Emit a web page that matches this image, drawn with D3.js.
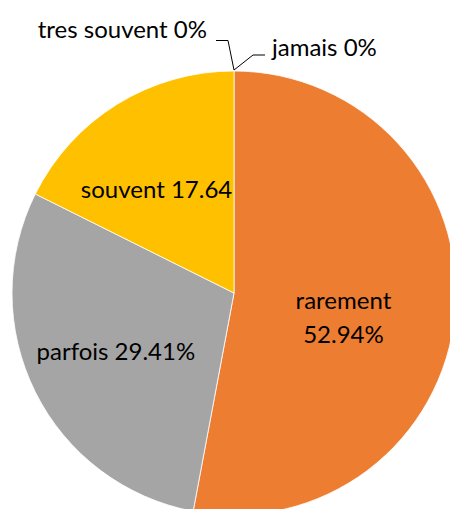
<!DOCTYPE html>
<html>
<head>
<meta charset="utf-8">
<script src="https://cdn.jsdelivr.net/npm/d3@7"></script>
<style>
  html, body { margin: 0; padding: 0; background: #fff; }
  svg { display: block; }
</style>
</head>
<body>
<svg id="chart" width="450" height="509"></svg>
<script>
// ---- data ----
const categories = ["jamais", "rarement", "parfois", "souvent", "tres souvent"];
const values = [0, 52.94, 29.41, 17.64, 0];
const labelTexts = [["jamais 0%"], ["rarement", "52.94%"], ["parfois 29.41%"], ["souvent 17.64"], ["tres souvent 0%"]];
const colors = ["#4472C4", "#ED7D31", "#A5A5A5", "#FFC000", "#5B9BD5"];

// ---- layout ----
const W = 450, H = 509;
const cx = 234, cy = 293, R = 222;
const labelR = 132;
const fontFamily = "Lato, 'Noto Sans', sans-serif";
const fontSize = 24;
// per-label offsets (px) from the label-radius centroid, for inside labels
const insideOffsets = { "rarement": [-22, 4], "parfois": [0, 8], "souvent": [-8, 17] };
// outside labels for empty slices: elbow position relative to pie top and text side
const outsideLayout = {
  "jamais": { elbowDx: 19, elbowDy: -15, tail: 12, textGap: 7, anchor: "start", baseDy: 1 },
  "tres souvent": { elbowDx: -6, elbowDy: -29.5, tail: -12, textGap: -9, anchor: "end", baseDy: -3 }
};

const svg = d3.select("#chart");
const g = svg.append("g").attr("transform", `translate(${cx},${cy})`);

const pie = d3.pie().sort(null).value(d => d.value);
const data = categories.map((c, i) => ({ cat: c, value: values[i], color: colors[i], lines: labelTexts[i] }));
const arcs = pie(data);
const arc = d3.arc().innerRadius(0).outerRadius(R);
const labelArc = d3.arc().innerRadius(labelR).outerRadius(labelR);

g.selectAll("path.slice")
  .data(arcs.filter(a => a.data.value > 0))
  .join("path")
  .attr("class", "slice")
  .attr("d", arc)
  .attr("fill", d => d.data.color)
  .attr("stroke", "#fff")
  .attr("stroke-width", 0.8);

// inside labels
arcs.filter(a => a.data.value > 0).forEach(a => {
  const [x, y] = labelArc.centroid(a);
  const off = insideOffsets[a.data.cat] || [0, 0];
  const t = g.append("text")
    .attr("x", x + off[0])
    .attr("y", y + off[1])
    .attr("text-anchor", "middle")
    .attr("font-family", fontFamily)
    .attr("font-size", fontSize)
    .attr("fill", "#000");
  a.data.lines.forEach((ln, i) => {
    t.append("tspan").attr("x", x + off[0]).attr("dy", i === 0 ? 0 : 34).text(ln);
  });
});

// outside labels with leader lines for empty slices
arcs.filter(a => a.data.value === 0).forEach(a => {
  const L = outsideLayout[a.data.cat];
  const ang = a.startAngle;
  const p0 = [R * Math.sin(ang), -R * Math.cos(ang) - 1];
  const p1 = [p0[0] + L.elbowDx, p0[1] + L.elbowDy];
  const p2 = [p1[0] + L.tail, p1[1]];
  g.append("path")
    .attr("d", d3.line()([p0, p1, p2]))
    .attr("fill", "none")
    .attr("stroke", "#000")
    .attr("stroke-width", 1);
  g.append("text")
    .attr("x", p2[0] + L.textGap)
    .attr("y", p2[1] + L.baseDy)
    .attr("text-anchor", L.anchor)
    .attr("font-family", fontFamily)
    .attr("font-size", fontSize)
    .attr("fill", "#000")
    .text(a.data.lines[0]);
});
</script>
</body>
</html>
